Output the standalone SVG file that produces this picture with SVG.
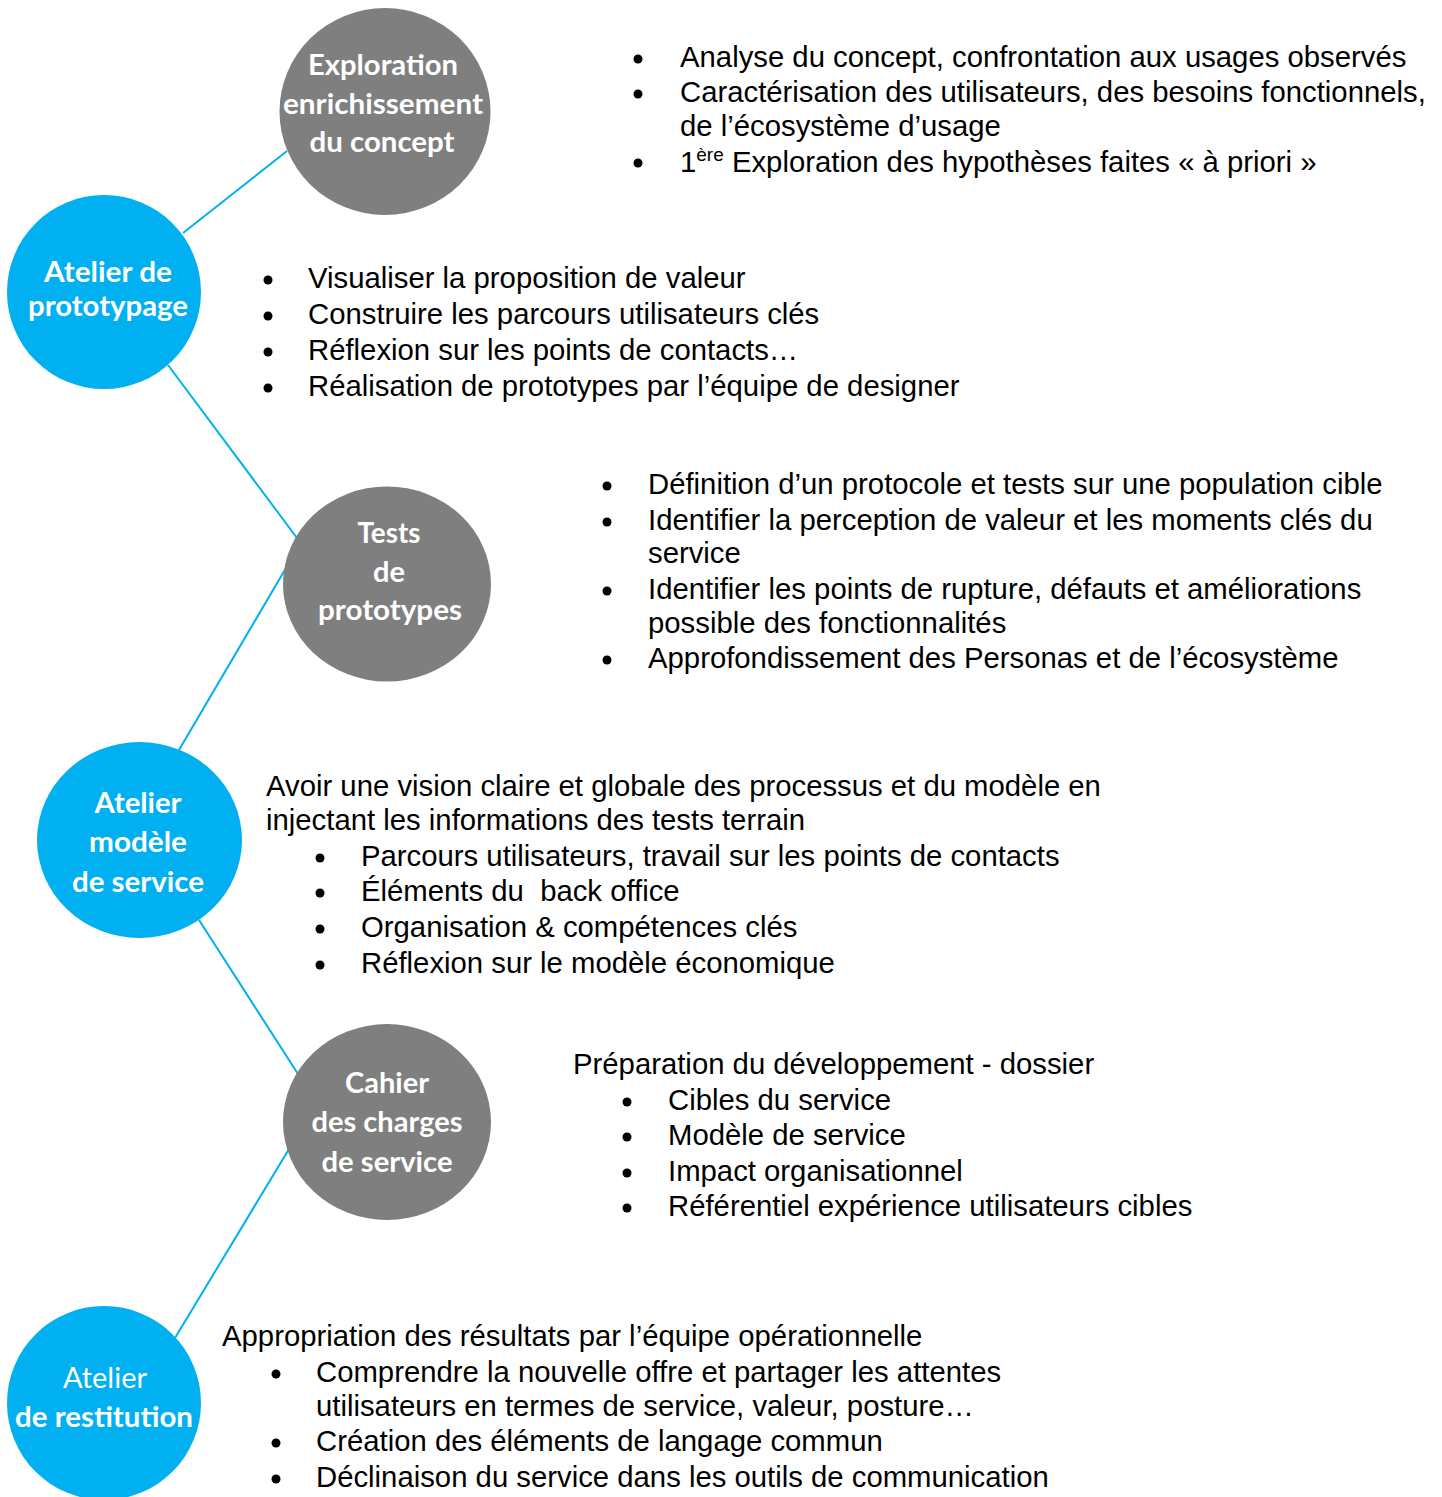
<svg xmlns="http://www.w3.org/2000/svg" width="1442" height="1497" viewBox="0 0 1442 1497">
<style>
.blue{fill:#00B0F0}
.gray{fill:#7F7F7F}
.lbl{font-family:Lato,"Open Sans","Noto Sans",sans-serif;font-weight:bold;font-size:28.5px;fill:#fff;text-anchor:middle}
.lblr{font-family:Lato,"Open Sans","Noto Sans",sans-serif;font-weight:normal;font-size:28.5px;fill:#fff;text-anchor:middle}
.t{font-family:"Liberation Sans",Arial,sans-serif;font-size:29.3px;fill:#000}
.b{fill:#000}
.conn line{stroke:#00B0F0;stroke-width:2}
</style>
<rect width="1442" height="1497" fill="#fff"/>
<g id="connectors" class="conn">
<line x1="183" y1="233" x2="287" y2="151"/>
<line x1="168" y1="365" x2="297" y2="538"/>
<line x1="286" y1="568" x2="179" y2="750"/>
<line x1="199" y1="920" x2="298" y2="1074"/>
<line x1="289" y1="1149" x2="175" y2="1338"/>
</g>
<g id="node-exploration">
<ellipse class="gray" cx="385" cy="111.5" rx="105.5" ry="103.5"/>
<text class="lbl" x="383" y="75" textLength="150" lengthAdjust="spacingAndGlyphs">Exploration</text>
<text class="lbl" x="383" y="114" textLength="200" lengthAdjust="spacingAndGlyphs">enrichissement</text>
<text class="lbl" x="382" y="152" textLength="145" lengthAdjust="spacingAndGlyphs">du concept</text>
</g>
<g id="node-prototypage">
<circle class="blue" cx="104" cy="292" r="97"/>
<text class="lbl" x="108" y="282" textLength="128" lengthAdjust="spacingAndGlyphs">Atelier de</text>
<text class="lbl" x="108" y="316" textLength="160" lengthAdjust="spacingAndGlyphs">prototypage</text>
</g>
<g id="node-tests">
<ellipse class="gray" cx="387" cy="584" rx="104" ry="97.5"/>
<text class="lbl" x="389" y="543" textLength="63" lengthAdjust="spacingAndGlyphs">Tests</text>
<text class="lbl" x="389" y="582" textLength="32" lengthAdjust="spacingAndGlyphs">de</text>
<text class="lbl" x="390" y="620" textLength="144" lengthAdjust="spacingAndGlyphs">prototypes</text>
</g>
<g id="node-modele">
<ellipse class="blue" cx="139.5" cy="840" rx="102.5" ry="98"/>
<text class="lbl" x="138" y="813" textLength="87" lengthAdjust="spacingAndGlyphs">Atelier</text>
<text class="lbl" x="138" y="852" textLength="98" lengthAdjust="spacingAndGlyphs">modèle</text>
<text class="lbl" x="138" y="892" textLength="132" lengthAdjust="spacingAndGlyphs">de service</text>
</g>
<g id="node-cahier">
<ellipse class="gray" cx="387" cy="1122" rx="104" ry="98"/>
<text class="lbl" x="387" y="1093" textLength="84" lengthAdjust="spacingAndGlyphs">Cahier</text>
<text class="lbl" x="387" y="1132" textLength="151" lengthAdjust="spacingAndGlyphs">des charges</text>
<text class="lbl" x="387" y="1172" textLength="131" lengthAdjust="spacingAndGlyphs">de service</text>
</g>
<g id="node-restitution">
<circle class="blue" cx="104" cy="1403" r="97"/>
<text class="lblr" x="105" y="1388" textLength="84" lengthAdjust="spacingAndGlyphs">Atelier</text>
<text class="lbl" x="104" y="1427" textLength="178" lengthAdjust="spacingAndGlyphs">de restitution</text>
</g>
<g id="text-exploration">
<circle class="b" cx="638" cy="59" r="4.5"/>
<circle class="b" cx="638" cy="94" r="4.5"/>
<circle class="b" cx="638" cy="163" r="4.5"/>
<text class="t" x="680" y="67">Analyse du concept, confrontation aux usages observés</text>
<text class="t" x="680" y="102">Caractérisation des utilisateurs, des besoins fonctionnels,</text>
<text class="t" x="680" y="136">de l’écosystème d’usage</text>
<text class="t" x="680" y="172">1<tspan font-size="19" dy="-11">ère</tspan><tspan dy="11"> Exploration des hypothèses faites « à priori »</tspan></text>
</g>
<g id="text-prototypage">
<circle class="b" cx="268" cy="280" r="4.5"/>
<circle class="b" cx="268" cy="316" r="4.5"/>
<circle class="b" cx="268" cy="352" r="4.5"/>
<circle class="b" cx="268" cy="388" r="4.5"/>
<text class="t" x="308" y="288">Visualiser la proposition de valeur</text>
<text class="t" x="308" y="324">Construire les parcours utilisateurs clés</text>
<text class="t" x="308" y="360">Réflexion sur les points de contacts…</text>
<text class="t" x="308" y="396">Réalisation de prototypes par l’équipe de designer</text>
</g>
<g id="text-tests">
<circle class="b" cx="607" cy="486" r="4.5"/>
<circle class="b" cx="607" cy="522" r="4.5"/>
<circle class="b" cx="607" cy="591" r="4.5"/>
<circle class="b" cx="607" cy="660" r="4.5"/>
<text class="t" x="648" y="494">Définition d’un protocole et tests sur une population cible</text>
<text class="t" x="648" y="530">Identifier la perception de valeur et les moments clés du</text>
<text class="t" x="648" y="563">service</text>
<text class="t" x="648" y="599">Identifier les points de rupture, défauts et améliorations</text>
<text class="t" x="648" y="633">possible des fonctionnalités</text>
<text class="t" x="648" y="668">Approfondissement des Personas et de l’écosystème</text>
</g>
<g id="text-modele">
<text class="t" x="266" y="796">Avoir une vision claire et globale des processus et du modèle en</text>
<text class="t" x="266" y="830">injectant les informations des tests terrain</text>
<circle class="b" cx="320" cy="858" r="4.5"/>
<circle class="b" cx="320" cy="893" r="4.5"/>
<circle class="b" cx="320" cy="929" r="4.5"/>
<circle class="b" cx="320" cy="965" r="4.5"/>
<text class="t" x="361" y="866">Parcours utilisateurs, travail sur les points de contacts</text>
<text class="t" x="361" y="901" style="white-space:pre">Éléments du  back office</text>
<text class="t" x="361" y="937">Organisation &amp; compétences clés</text>
<text class="t" x="361" y="973">Réflexion sur le modèle économique</text>
</g>
<g id="text-cahier">
<text class="t" x="573" y="1074">Préparation du développement - dossier</text>
<circle class="b" cx="627" cy="1102" r="4.5"/>
<circle class="b" cx="627" cy="1137" r="4.5"/>
<circle class="b" cx="627" cy="1173" r="4.5"/>
<circle class="b" cx="627" cy="1208" r="4.5"/>
<text class="t" x="668" y="1110">Cibles du service</text>
<text class="t" x="668" y="1145">Modèle de service</text>
<text class="t" x="668" y="1181">Impact organisationnel</text>
<text class="t" x="668" y="1216">Référentiel expérience utilisateurs cibles</text>
</g>
<g id="text-restitution">
<text class="t" x="222" y="1346">Appropriation des résultats par l’équipe opérationnelle</text>
<circle class="b" cx="276" cy="1374" r="4.5"/>
<circle class="b" cx="276" cy="1443" r="4.5"/>
<circle class="b" cx="276" cy="1479" r="4.5"/>
<text class="t" x="316" y="1382">Comprendre la nouvelle offre et partager les attentes</text>
<text class="t" x="316" y="1416">utilisateurs en termes de service, valeur, posture…</text>
<text class="t" x="316" y="1451">Création des éléments de langage commun</text>
<text class="t" x="316" y="1487">Déclinaison du service dans les outils de communication</text>
</g>
</svg>
